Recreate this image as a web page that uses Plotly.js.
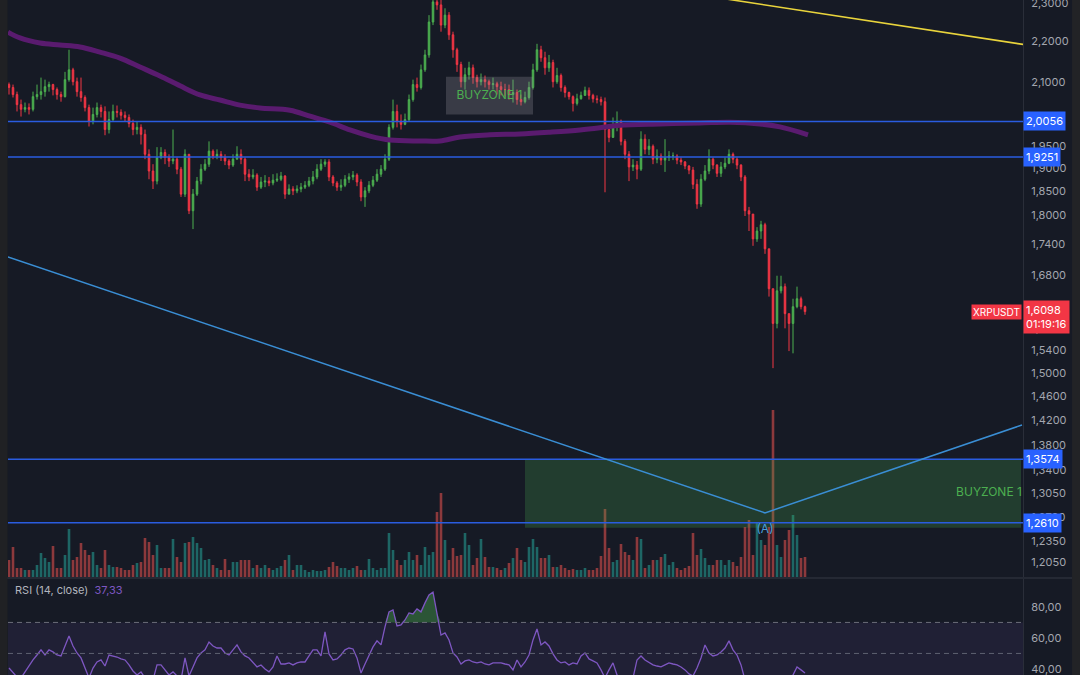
<!DOCTYPE html>
<html>
<head>
<meta charset="utf-8">
<script src="https://cdn.plot.ly/plotly-3.0.1.min.js"></script>
<style>html,body{margin:0;padding:0;background:#161A25;}#chart{width:1080px;height:675px;}</style>
</head>
<body>
<div id="chart"></div>
<script>
// ---- Candles (XRPUSDT), index 0..199 ----
const openP = [
2.093,2.086,2.069,2.045,2.034,2.038,2.034,2.064,2.069,2.076,
2.088,2.093,2.081,2.069,2.064,2.105,2.129,2.100,2.076,2.062,
2.038,2.006,2.022,2.038,2.029,1.987,2.010,2.029,2.027,2.020,
2.015,2.001,1.987,1.992,1.976,1.931,1.894,1.872,1.924,1.935,
1.924,1.916,1.920,1.898,1.844,1.931,1.809,1.844,1.872,1.898,
1.909,1.938,1.927,1.931,1.924,1.916,1.907,1.920,1.931,1.920,
1.887,1.881,1.885,1.859,1.870,1.872,1.868,1.874,1.876,1.883,
1.844,1.855,1.851,1.855,1.859,1.863,1.872,1.881,1.898,1.909,
1.914,1.881,1.868,1.859,1.863,1.876,1.881,1.885,1.870,1.838,
1.851,1.863,1.874,1.887,1.898,1.920,1.992,2.029,2.006,1.999,
2.010,2.057,2.093,2.086,2.129,2.166,2.250,2.303,2.295,2.242,
2.268,2.217,2.179,2.142,2.100,2.117,2.134,2.110,2.100,2.105,
2.100,2.093,2.095,2.088,2.081,2.081,2.069,2.074,2.057,2.052,
2.062,2.086,2.129,2.179,2.159,2.134,2.147,2.100,2.115,2.086,
2.074,2.064,2.048,2.059,2.067,2.079,2.067,2.059,2.057,2.052,
1.987,1.969,1.996,2.006,1.960,1.931,1.903,1.907,1.898,1.965,
1.942,1.949,1.920,1.927,1.918,1.924,1.927,1.927,1.918,1.914,
1.905,1.896,1.865,1.823,1.876,1.894,1.920,1.907,1.889,1.903,
1.911,1.931,1.920,1.907,1.881,1.809,1.802,1.751,1.767,1.780,
1.731,1.653,1.588,1.649,1.657,1.606,1.588,1.619,1.634,1.619];
const highP = [
2.098,2.093,2.076,2.057,2.050,2.048,2.076,2.093,2.110,2.105,
2.100,2.095,2.086,2.076,2.124,2.179,2.134,2.110,2.110,2.067,
2.045,2.038,2.050,2.045,2.041,2.029,2.045,2.043,2.034,2.029,
2.022,2.010,2.006,1.999,1.987,1.942,1.909,1.947,1.947,1.942,
1.931,1.987,1.924,1.903,1.942,1.931,1.855,1.881,1.909,1.920,
1.960,1.942,1.942,1.938,1.931,1.920,1.931,1.949,1.942,1.924,
1.898,1.898,1.889,1.881,1.885,1.881,1.887,1.889,1.892,1.885,
1.865,1.861,1.863,1.868,1.872,1.881,1.894,1.909,1.920,1.920,
1.920,1.885,1.872,1.876,1.885,1.889,1.894,1.889,1.876,1.859,
1.872,1.883,1.898,1.907,1.931,1.999,2.057,2.045,2.022,2.024,
2.069,2.105,2.110,2.142,2.179,2.268,2.321,2.329,2.308,2.286,
2.276,2.225,2.184,2.149,2.134,2.149,2.142,2.117,2.120,2.115,
2.105,2.110,2.100,2.100,2.095,2.093,2.105,2.081,2.069,2.076,
2.100,2.144,2.194,2.189,2.174,2.166,2.154,2.134,2.120,2.091,
2.076,2.067,2.071,2.076,2.088,2.086,2.071,2.067,2.064,2.062,
1.996,2.015,2.029,2.010,1.965,1.938,1.920,1.916,1.983,1.976,
1.965,1.953,1.942,1.933,1.965,1.938,1.935,1.931,1.924,1.916,
1.907,1.903,1.876,1.887,1.907,1.942,1.924,1.909,1.914,1.924,
1.942,1.935,1.924,1.909,1.885,1.817,1.802,1.775,1.788,1.784,
1.731,1.653,1.678,1.678,1.663,1.606,1.634,1.657,1.638,1.621];
const lowP = [
2.069,2.062,2.029,2.017,2.027,2.022,2.029,2.057,2.057,2.064,
2.076,2.067,2.057,2.052,2.062,2.100,2.091,2.064,2.052,2.029,
1.994,1.999,2.015,2.015,1.974,1.978,2.006,2.015,2.010,2.006,
1.992,1.974,1.976,1.953,1.920,1.876,1.855,1.865,1.920,1.909,
1.903,1.909,1.887,1.838,1.838,1.802,1.771,1.840,1.865,1.894,
1.903,1.920,1.920,1.916,1.907,1.898,1.903,1.920,1.909,1.872,
1.872,1.876,1.851,1.855,1.859,1.861,1.863,1.870,1.872,1.834,
1.844,1.842,1.846,1.848,1.855,1.859,1.865,1.876,1.894,1.903,
1.872,1.861,1.851,1.851,1.859,1.868,1.874,1.861,1.829,1.817,
1.846,1.859,1.870,1.881,1.894,1.916,1.987,1.992,1.987,1.997,
2.006,2.052,2.076,2.081,2.124,2.159,2.242,2.282,2.225,2.234,
2.204,2.159,2.124,2.086,2.081,2.105,2.095,2.086,2.091,2.086,
2.081,2.081,2.069,2.067,2.064,2.057,2.050,2.045,2.043,2.048,
2.057,2.081,2.124,2.149,2.117,2.124,2.086,2.095,2.076,2.062,
2.057,2.029,2.043,2.057,2.067,2.057,2.050,2.048,2.043,1.848,
1.958,1.969,1.983,1.951,1.920,1.872,1.894,1.876,1.894,1.931,
1.929,1.909,1.911,1.907,1.892,1.916,1.918,1.909,1.907,1.898,
1.887,1.855,1.813,1.817,1.872,1.887,1.898,1.881,1.881,1.898,
1.909,1.911,1.898,1.872,1.798,1.767,1.737,1.745,1.751,1.721,
1.638,1.508,1.579,1.644,1.579,1.538,1.534,1.616,1.614,1.604];
const closeP = [
2.086,2.069,2.045,2.034,2.038,2.034,2.064,2.069,2.076,2.088,
2.093,2.081,2.069,2.064,2.105,2.129,2.100,2.076,2.062,2.038,
2.006,2.022,2.038,2.029,1.987,2.010,2.029,2.027,2.020,2.015,
2.001,1.987,1.992,1.976,1.931,1.894,1.872,1.924,1.935,1.924,
1.916,1.920,1.898,1.844,1.931,1.809,1.844,1.872,1.898,1.909,
1.938,1.927,1.931,1.924,1.916,1.907,1.920,1.931,1.920,1.887,
1.881,1.885,1.859,1.870,1.872,1.868,1.874,1.876,1.883,1.844,
1.855,1.851,1.855,1.859,1.863,1.872,1.881,1.898,1.909,1.914,
1.881,1.868,1.859,1.863,1.876,1.881,1.885,1.870,1.838,1.851,
1.863,1.874,1.887,1.898,1.920,1.992,2.029,2.006,1.999,2.010,
2.057,2.093,2.086,2.129,2.166,2.250,2.303,2.295,2.242,2.268,
2.217,2.179,2.142,2.100,2.117,2.134,2.110,2.100,2.105,2.100,
2.093,2.095,2.088,2.081,2.081,2.069,2.074,2.057,2.052,2.062,
2.086,2.129,2.179,2.159,2.134,2.147,2.100,2.115,2.086,2.074,
2.064,2.048,2.059,2.067,2.079,2.067,2.059,2.057,2.052,1.987,
1.969,1.996,2.006,1.960,1.931,1.903,1.907,1.898,1.965,1.942,
1.949,1.920,1.927,1.918,1.924,1.927,1.927,1.918,1.914,1.905,
1.896,1.865,1.823,1.876,1.894,1.920,1.907,1.889,1.903,1.911,
1.931,1.920,1.907,1.881,1.809,1.802,1.751,1.767,1.780,1.731,
1.653,1.588,1.649,1.657,1.606,1.588,1.619,1.634,1.619,1.6098];
const volume = [
8.5,15,4.5,4.5,3.5,3.5,3.5,6,12,9.5,
7.5,15.5,4.5,4.5,11,24,8.5,10,17,13.5,
11,12.5,6,4.5,13.5,6,5,5,4.5,3.5,
3.5,6,7,7.5,19.5,17.5,11,16,4.5,4.5,
4.5,19,10,7.5,17,17.5,20,17,14.5,8.5,
9,6,4.5,3.5,9,3.5,7.5,7.5,8.5,8.5,
8.5,4.5,6,4.5,6,4.5,3.5,4.5,5.5,8.5,
11,3.5,6,6,3.5,2.5,3.5,3,3,3.5,
5,7.5,5.5,4.5,4.5,3.5,4.5,5.5,3.5,3.5,
9,4.5,3.5,4.5,4.5,22,13.5,8.5,6,8.5,
12.5,8.5,11,6,15,11,12.5,32.5,42,18.5,
8.5,14.5,10.5,11,22,16,6,9.5,19,10,
5,5,4.5,3.5,4.5,7,9.5,14.5,8.5,7.5,
15,19,15,9.5,9.5,11,5,5,6,4.5,
3.5,4,3.5,3.5,4.5,3.5,3.5,4.5,10.5,34,
14.5,7.5,8.5,16.5,12.5,11,8.5,20,19,4.5,
6,8.5,8.5,10,11.5,6,7.5,4.5,3.5,4.5,
5.5,22,11,14,9.5,6,6,8.5,8.5,6,
8.5,7.5,5.5,10,25,28.5,11,27,18.5,16,
25,83.5,16,10,18.5,23.5,31,21,9.5,10];
const rsi = [
40.6,37.4,34.8,34.2,38.1,42.6,45.8,49.0,52.3,49.0,
52.3,51.0,49.0,48.4,55.5,61.3,54.8,50.3,47.1,40.6,
34.2,40.6,44.5,45.8,41.9,49.0,48.4,47.7,46.5,45.8,
42.6,38.7,36.1,38.1,34.2,32.9,32.9,42.6,42.6,39.4,
36.1,38.1,35.5,32.9,47.1,35.5,41.3,47.1,50.3,52.3,
57.4,54.8,53.5,53.5,50.3,49.0,52.3,55.5,51.0,48.4,
47.1,44.5,41.3,42.6,40.0,38.1,41.3,48.4,43.2,43.2,
43.9,42.6,43.9,44.5,44.5,48.4,52.3,52.3,48.4,63.9,
49.7,45.8,46.5,49.0,52.3,53.5,52.9,47.1,37.4,43.2,
48.4,54.2,58.1,55.5,67.1,76.8,78.1,67.7,68.4,71.6,
76.1,75.5,78.7,76.8,82.6,87.7,89.5,76.1,61.9,63.2,
58.7,50.3,47.7,43.2,45.2,45.8,44.5,43.9,44.5,43.2,
42.6,43.9,43.9,43.9,43.2,42.6,39.4,45.8,41.3,44.5,
49.0,58.7,65.8,55.5,57.4,54.8,49.7,45.8,43.9,44.5,
42.6,43.9,43.2,48.4,50.3,46.5,45.2,43.9,39.4,34.2,
39.4,43.9,36.1,34.2,32.9,31.6,34.2,45.8,48.4,45.8,
43.9,42.6,41.9,41.3,42.6,43.9,43.2,42.6,41.3,39.4,
36.8,35.5,40.6,47.1,55.5,50.3,48.4,49.0,51.0,53.5,
58.1,52.3,49.0,42.6,32.9,31.6,27.7,29.0,29.7,26.5,
20.0,16.8,26.5,27.7,23.2,26.5,36.1,41.3,39.4,37.33];

// ---- Moving average (thick purple) ----
const maX = [-0.25,2.75,7.75,12.75,17.75,22.75,27.75,32.75,37.75,42.75,47.75,52.75,57.75,62.75,70.25,75.25,80.25,85.25,90.25,95.25,102.75,107.75,112.75,120.25,127.75,135.25,142.75,147.75,152.75,162.75,172.75,180.25,187.75,192.75,199.75];
const maY = [2.224,2.209,2.196,2.191,2.186,2.173,2.158,2.136,2.114,2.090,2.068,2.056,2.044,2.037,2.032,2.018,2.004,1.986,1.972,1.963,1.961,1.961,1.970,1.975,1.977,1.981,1.986,1.991,1.997,2.000,2.002,2.004,2.000,1.993,1.975];

// ---- Drawings ----
const levels = [2.0056, 1.9251, 1.3574, 1.2610];
const trendX = [-0.25, 189, 253.25];
const trendY = [1.715, 1.2756, 1.412];
const yellowX = [170, 253.5];
const yellowY = [2.326, 2.1925];
const zoneGreen = {x0: 129, x1: 253, top: 1.3574, bottom: 1.254, label: 'BUYZONE 1', labelX: 245.0};
const zoneGrey = {x0: 109.25, x1: 131, top: 2.112, bottom: 2.022, label: 'BUYZONE 1', labelX: 120.1};
const pointA = {x: 189, y: 1.2505, label: '(A)'};
const priceTicks = [2.3,2.2,2.1,1.95,1.9,1.85,1.8,1.74,1.68,1.62,1.58,1.54,1.5,1.46,1.42,1.38,1.34,1.305,1.27,1.235,1.205];
const rsiTicks = [40,60,80];
const lastPrice = 1.6098, countdown = '01:19:16', symbol = 'XRPUSDT', rsiLast = '37,33';

// ---- build ----
const fmt = v => v.toFixed(4).replace('.', ',');
const idx = closeP.map((_, i) => i);
const FONT = 'Inter, Roboto, "DejaVu Sans", sans-serif';
const UP = '#4CAF50', DN = '#F23645';
const volColors = closeP.map((c, i) => c >= openP[i] ? 'rgba(38,166,154,0.55)' : 'rgba(239,83,80,0.55)');
const XR = [-0.25, 253.5];

const traces = [];
traces.push({type:'bar', x: idx, y: volume, xaxis:'x', yaxis:'y', marker:{color: volColors, line:{width:0}}, hoverinfo:'skip'});
traces.push({type:'scatter', mode:'lines', x: maX, y: maY, xaxis:'x', yaxis:'y2', line:{color:'#5A1B6F', width:5, shape:'spline'}, hoverinfo:'skip'});
traces.push({type:'scatter', mode:'lines', xaxis:'x', yaxis:'y2',
  x:[zoneGreen.x0, zoneGreen.x1, zoneGreen.x1, zoneGreen.x0, zoneGreen.x0],
  y:[zoneGreen.top, zoneGreen.top, zoneGreen.bottom, zoneGreen.bottom, zoneGreen.top],
  fill:'toself', fillcolor:'rgba(76,175,80,0.24)', line:{width:0}, hoverinfo:'skip'});
traces.push({type:'candlestick', x: idx, open: openP, high: highP, low: lowP, close: closeP, xaxis:'x', yaxis:'y2',
  increasing:{line:{color:UP, width:1}, fillcolor:UP}, decreasing:{line:{color:DN, width:1}, fillcolor:DN},
  whiskerwidth:0, hoverinfo:'skip'});
traces.push({type:'scatter', mode:'lines', xaxis:'x', yaxis:'y2',
  x:[zoneGrey.x0, zoneGrey.x1, zoneGrey.x1, zoneGrey.x0, zoneGrey.x0],
  y:[zoneGrey.top, zoneGrey.top, zoneGrey.bottom, zoneGrey.bottom, zoneGrey.top],
  fill:'toself', fillcolor:'rgba(150,152,158,0.27)', line:{width:0}, hoverinfo:'skip'});
levels.forEach(l => traces.push({type:'scatter', mode:'lines', x: XR, y:[l, l], xaxis:'x', yaxis:'y2', line:{color:'#2A5CE0', width:1.5}, hoverinfo:'skip'}));
traces.push({type:'scatter', mode:'lines', x: trendX, y: trendY, xaxis:'x', yaxis:'y2', line:{color:'#3A8ED4', width:1.5}, hoverinfo:'skip'});
traces.push({type:'scatter', mode:'lines', x: yellowX, y: yellowY, xaxis:'x', yaxis:'y2', line:{color:'#E9D43C', width:1.6}, hoverinfo:'skip'});
traces.push({type:'scatter', mode:'text', xaxis:'x', yaxis:'y2',
  x:[zoneGrey.labelX, zoneGreen.labelX],
  y:[Math.sqrt(zoneGrey.top*zoneGrey.bottom), Math.sqrt(zoneGreen.top*zoneGreen.bottom)],
  text:[zoneGrey.label, zoneGreen.label], textposition:'middle center',
  textfont:{color:UP, size:12, family:FONT}, cliponaxis:false, hoverinfo:'skip'});
traces.push({type:'scatter', mode:'text', xaxis:'x', yaxis:'y2', x:[pointA.x], y:[pointA.y], text:[pointA.label],
  textposition:'middle center', textfont:{color:'#4A9FDB', size:12, family:FONT}, hoverinfo:'skip'});
traces.push({type:'scatter', mode:'lines', x: idx, y: idx.map(() => 70), xaxis:'x', yaxis:'y3', line:{width:0}, hoverinfo:'skip'});
traces.push({type:'scatter', mode:'lines', x: idx, y: rsi.map(v => Math.max(v, 70)), xaxis:'x', yaxis:'y3', line:{width:0}, fill:'tonexty', fillcolor:'rgba(76,175,80,0.4)', hoverinfo:'skip'});
traces.push({type:'scatter', mode:'lines', x: idx, y: rsi, xaxis:'x', yaxis:'y3', line:{color:'#7E57C2', width:1.3}, hoverinfo:'skip'});

const axisCommon = {showgrid:false, zeroline:false, showline:true, linecolor:'#2A2E39', linewidth:1,
  ticks:'outside', ticklen:5, tickcolor:'rgba(0,0,0,0)', ticklabeloverflow:'allow',
  tickfont:{color:'#A3A6AF', size:11, family:FONT}, fixedrange:true};

const annotations = [];
levels.forEach(l => annotations.push({xref:'paper', x:1, xanchor:'left', yref:'y2', y: Math.log10(l), yanchor:'middle',
  text: fmt(l), showarrow:false, bgcolor:'#2962FF', borderpad:2, font:{color:'#FFFFFF', size:11, family:FONT}}));
annotations.push({xref:'paper', x:1, xanchor:'left', yref:'y2', y: Math.log10(lastPrice), yanchor:'middle', yshift:-5,
  text: fmt(lastPrice) + '<br>' + countdown, showarrow:false, bgcolor:'#F23645', borderpad:2, align:'left',
  font:{color:'#FFFFFF', size:11, family:FONT}});
annotations.push({xref:'paper', x:1, xanchor:'right', xshift:-1, yref:'y2', y: Math.log10(lastPrice), yanchor:'middle',
  text: symbol, showarrow:false, bgcolor:'#F23645', borderpad:1, font:{color:'#FFFFFF', size:10, family:FONT}});
annotations.push({xref:'paper', x:0.005, xanchor:'left', yref:'paper', y:0.126, yanchor:'middle',
  text:'RSI (14, close)  <span style="color:#7E57C2">' + rsiLast + '</span>', showarrow:false,
  font:{color:'#B2B5BE', size:11, family:FONT}});

const shapes = [
  {type:'rect', xref:'paper', yref:'y3', x0:0, x1:1, y0:30, y1:70, fillcolor:'rgba(126,87,194,0.1)', line:{width:0}, layer:'below'},
  {type:'line', xref:'paper', yref:'y3', x0:0, x1:1, y0:70, y1:70, line:{color:'#6A6D78', width:1, dash:'5px,4px'}},
  {type:'line', xref:'paper', yref:'y3', x0:0, x1:1, y0:50, y1:50, line:{color:'#5D6070', width:1, dash:'5px,4px'}},
  {type:'line', xref:'paper', yref:'paper', x0:-0.008, x1:1.0483, y0:0.1437, y1:0.1437, line:{color:'#252934', width:2}},
  {type:'rect', xref:'paper', yref:'paper', x0:-0.0079, x1:-0.0005, y0:0, y1:1, fillcolor:'#202124', line:{width:0}},
  {type:'rect', xref:'paper', yref:'paper', x0:1.0483, x1:1.0562, y0:0, y1:1, fillcolor:'#222326', line:{width:0}}
];

const layout = {
  width:1080, height:675,
  paper_bgcolor:'#161A25', plot_bgcolor:'#161A25',
  margin:{l:8, r:57, t:0, b:0},
  showlegend:false,
  font:{family:FONT, color:'#A3A6AF', size:11},
  boxgap:0.45, bargap:0.35,
  xaxis:{range:XR, visible:false, rangeslider:{visible:false}, fixedrange:true, showgrid:false, zeroline:false},
  yaxis:{domain:[0.1452, 1], range:[0, 288.5], visible:false, fixedrange:true},
  yaxis2:Object.assign({overlaying:'y', type:'log', range:[0.07353, 0.36324], side:'right', anchor:'x',
    tickmode:'array', tickvals: priceTicks, ticktext: priceTicks.map(fmt)}, axisCommon),
  yaxis3:Object.assign({domain:[0, 0.1422], range:[36.1, 98], side:'right', anchor:'x',
    tickmode:'array', tickvals: rsiTicks, ticktext: rsiTicks.map(v => v.toFixed(2).replace('.', ','))}, axisCommon),
  annotations: annotations,
  shapes: shapes
};

Plotly.newPlot('chart', traces, layout, {staticPlot:true, displayModeBar:false});
</script>
</body>
</html>
